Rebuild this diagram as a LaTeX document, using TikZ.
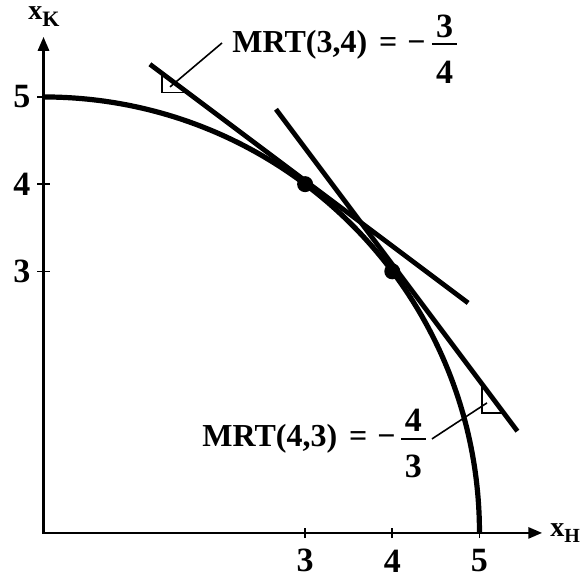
\documentclass[tikz,border=0pt]{standalone}
\usepackage{fontspec}
\setmainfont{Liberation Serif}
\usetikzlibrary{arrows.meta}
\begin{document}
\begin{tikzpicture}[x=43.6pt,y=43.6pt,
  axis/.style={line width=1.4pt,{Triangle[length=7pt,width=5.5pt]}-{Triangle[length=7pt,width=5.5pt]}},
  tickmark/.style={line width=0.8pt},
  prodcurve/.style={line width=2.6pt},
  tangent/.style={line width=2.4pt},
  thinline/.style={line width=0.8pt},
  dotnode/.style={circle,fill=black,inner sep=0pt,minimum size=8pt},
  num/.style={font=\fontsize{17}{17}\selectfont\bfseries,inner sep=0pt},
  lab/.style={font=\fontsize{16}{16}\selectfont\bfseries,inner sep=0pt,anchor=base west},
  fracdigit/.style={font=\fontsize{17}{17}\selectfont\bfseries,inner sep=0pt,anchor=base},
  fracbar/.style={line width=1pt},
]
\useasboundingbox (-0.499,-0.550) rectangle (6.176,6.112);
% axes
\coordinate (O) at (0,0);
\coordinate (xend) at (5.72,0);
\coordinate (yend) at (0,5.69);
\draw[axis] (yend) -- (O) -- (xend);
\foreach \i in {3,4,5}{
  \draw[tickmark] (\i,-0.06) -- (\i,0.06);
  \draw[tickmark] (-0.07,\i) -- (0.07,\i);
  \node[num] (xl\i) at (\i,-0.321) {\i};
  \node[num] (yl\i) at (-0.247,\i) {\i};
}
\node[inner sep=0pt,anchor=base west] (xK) at (-0.178,5.883)
  {\fontsize{14}{14}\selectfont\bfseries x\raisebox{-3.5pt}{\fontsize{11}{11}\selectfont K}};
\node[inner sep=0pt,anchor=base west] (xH) at (5.808,-0.046)
  {\fontsize{14}{14}\selectfont\bfseries x\raisebox{-3pt}{\fontsize{10}{10}\selectfont H}};
% frontier
\draw[prodcurve] (0,5) arc[start angle=90,end angle=0,radius=5];
% tangents
\coordinate (t1a) at (1.22,5.375);
\coordinate (t1b) at (4.87,2.6375);
\coordinate (t2a) at (2.666,4.859);
\coordinate (t2b) at (5.435,1.167);
\draw[tangent] (t1a) -- (t1b);
\draw[tangent] (t2a) -- (t2b);
\node[dotnode] (P) at (3,4) {};
\node[dotnode] (Q) at (4,3) {};
% slope triangles
\draw[thinline] (1.36,5.27) -- (1.36,5.05) -- (1.653,5.05);
\draw[thinline] (5.029,1.708) -- (5.029,1.376) -- (5.278,1.376);
% pointers
\coordinate (p1s) at (1.451,5.115);
\coordinate (p1e) at (2.047,5.619);
\coordinate (p2s) at (5.086,1.491);
\coordinate (p2e) at (4.455,1.078);
\draw[thinline] (p1s) -- (p1e);
\draw[thinline] (p2s) -- (p2e);
% label 1
\node[lab] (m1) at (2.161,5.505) {MRT(3,4)\hspace{6pt}=\hspace{5pt}−};
\node[fracdigit] (n1) at (4.599,5.677) {3};
\node[fracdigit] (d1) at (4.599,5.149) {4};
\draw[fracbar] (4.455,5.608) -- (4.742,5.608);
% label 2
\node[lab] (m2) at (1.818,0.986) {MRT(4,3)\hspace{6pt}=\hspace{5pt}−};
\node[fracdigit] (n2) at (4.243,1.158) {4};
\node[fracdigit] (d2) at (4.243,0.631) {3};
\draw[fracbar] (4.100,1.078) -- (4.386,1.078);
\end{tikzpicture}
\end{document}
